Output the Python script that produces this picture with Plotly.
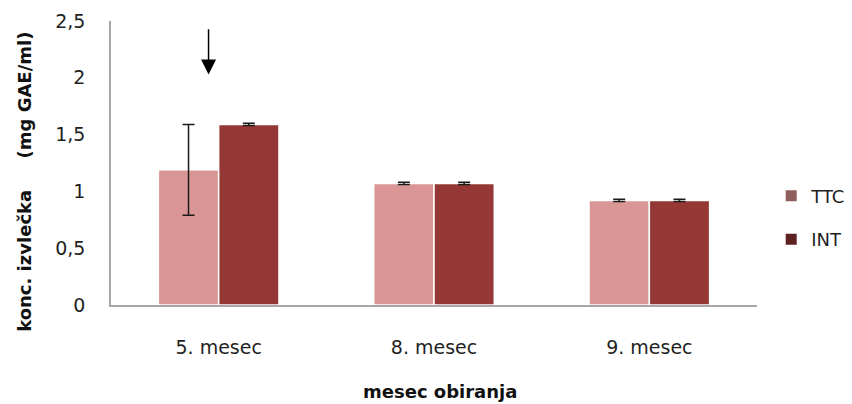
import plotly.graph_objects as go

categories = ["5. mesec", "8. mesec", "9. mesec"]
ttc_values = [1.19, 1.07, 0.92]
ttc_errors = [0.40, 0.01, 0.01]
int_values = [1.59, 1.07, 0.92]
int_errors = [0.01, 0.01, 0.01]
y_ticks = [0, 0.5, 1, 1.5, 2, 2.5]

font_family = "'DejaVu Sans', sans-serif"
TXT = "#1f1f1f"

fig = go.Figure()
fig.add_trace(go.Bar(
    x=categories, y=ttc_values, name="TTC", showlegend=False,
    marker=dict(color="#D99694", line=dict(color="white", width=1.5)),
    error_y=dict(type="data", array=ttc_errors, color="#1a1a1a", thickness=1.5, width=6),
))
fig.add_trace(go.Bar(
    x=categories, y=int_values, name="INT", showlegend=False,
    marker=dict(color="#953735", line=dict(color="white", width=1.5)),
    error_y=dict(type="data", array=int_errors, color="#1a1a1a", thickness=1.5, width=6),
))
# legend entries (darker swatches as in the reference legend)
fig.add_trace(go.Scatter(
    x=[None], y=[None], mode="markers", name="TTC", legendgroup="a",
    marker=dict(symbol="square", size=11, color="#8f5f5e"),
))
fig.add_trace(go.Scatter(
    x=[None], y=[None], mode="markers", name="INT", legendgroup="b",
    marker=dict(symbol="square", size=11, color="#5e2121"),
))

fig.update_layout(
    width=852, height=404,
    margin=dict(l=103, r=103, t=13, b=107, autoexpand=False),
    paper_bgcolor="white", plot_bgcolor="white",
    separators=", ",
    barmode="group", bargap=0.44, bargroupgap=0,
    font=dict(family=font_family, size=19, color=TXT),
    legend=dict(x=1.022, y=0.308, xanchor="left", yanchor="middle",
                tracegroupgap=17, font=dict(size=18, color=TXT),
                bgcolor="rgba(0,0,0,0)"),
    showlegend=True,
)
fig.update_xaxes(
    showline=True, linecolor="#a6a6a6", linewidth=1.5, showgrid=False, automargin=False,
    ticks="", ticklabelstandoff=24, tickfont=dict(size=19),
)
fig.update_yaxes(
    range=[0, 2.5], tickvals=y_ticks, showline=True, linecolor="#a6a6a6", linewidth=1.5,
    showgrid=False, zeroline=False, ticks="", ticklabelstandoff=20, tickfont=dict(size=19),
    automargin=False,
)

fig.add_annotation(
    text="<b>konc. izvlečka\u00a0\u00a0\u00a0\u00a0\u00a0(mg GAE/ml)</b>", xref="paper", yref="paper",
    x=-0.135, y=0.433, xanchor="center", yanchor="middle", textangle=-90, showarrow=False,
    font=dict(size=18, color="#111111"),
)
fig.add_annotation(
    text="<b>mesec obiranja</b>", xref="paper", yref="paper",
    x=0.509, y=-0.306, xanchor="center", yanchor="middle", showarrow=False,
    font=dict(size=18, color="#111111"),
)
fig.add_annotation(
    x=-0.047, y=2.03, ax=-0.047, ay=2.44, xref="x", yref="y", axref="x", ayref="y",
    text="", showarrow=True, arrowhead=2, arrowsize=2.0, arrowwidth=1.5, arrowcolor="black",
)

fig.write_html("out.html")
